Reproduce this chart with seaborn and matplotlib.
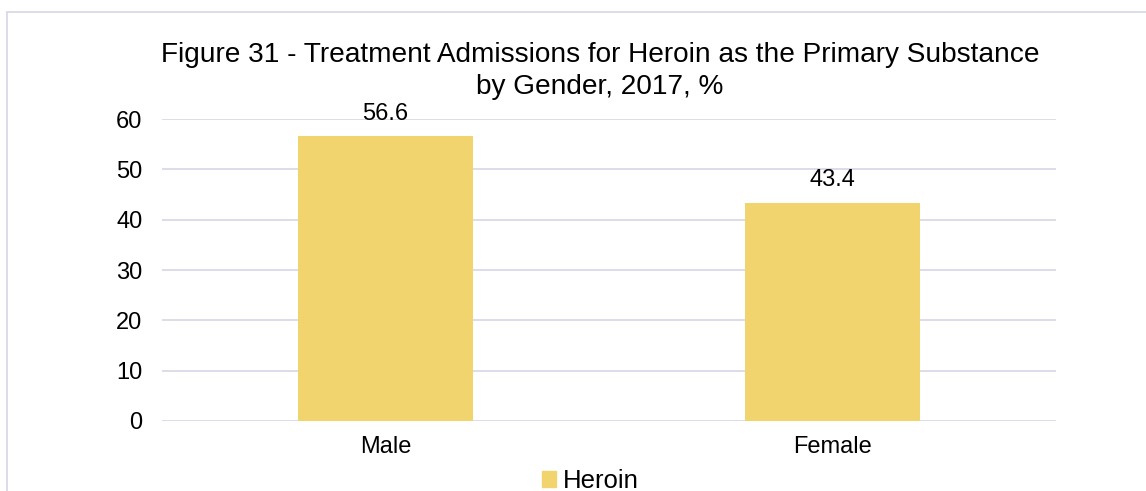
import matplotlib
matplotlib.use("Agg")
import matplotlib.pyplot as plt
import seaborn as sns
import pandas as pd
from matplotlib.patches import Patch
from matplotlib.lines import Line2D

# Data
genders = ["Male", "Female"]
heroin_pct = [56.6, 43.4]
series_name = "Heroin"
y_ticks = [0, 10, 20, 30, 40, 50, 60]
title_text = "Figure 31 - Treatment Admissions for Heroin as the Primary Substance\nby Gender, 2017, %"

bar_color = "#F2D46F"
grid_color = "#D9D9E8"

sns.set_theme(style="white")
plt.rcParams["font.family"] = ["Liberation Sans", "DejaVu Sans"]
plt.rcParams["text.color"] = "black"

df = pd.DataFrame({"Gender": genders, "Percent": heroin_pct,
                   "Substance": [series_name] * len(genders)})

fig = plt.figure(figsize=(11.46, 4.91), dpi=100)
ax = fig.add_axes([0.1414, 0.1426, 0.9215 - 0.1414, 0.7576 - 0.1426])

sns.barplot(data=df, x="Gender", y="Percent", hue="Substance",
            palette=[bar_color], width=0.39, legend=False, ax=ax,
            saturation=1, zorder=3, linewidth=0)

ax.set_ylim(0, 60)
ax.set_xlim(-0.5, 1.5)
ax.set_yticks(y_ticks)
ax.yaxis.grid(True, color=grid_color, linewidth=1.3, zorder=0)
ax.set_axisbelow(True)
for s in ax.spines.values():
    s.set_visible(False)
ax.tick_params(axis="both", length=0, labelsize=17, colors="black")
ax.tick_params(axis="y", pad=14)
ax.tick_params(axis="x", pad=11)
ax.set_xlabel("")
ax.set_ylabel("")

for c in ax.containers:
    ax.bar_label(c, fmt="%.1f", padding=8, fontsize=17, color="black")

fig.text(0.5236, 0.915, title_text, ha="center", va="top", fontsize=20.2,
         color="black", linespacing=1.3)

fig.legend(handles=[Patch(color=bar_color)], labels=[series_name],
           loc="center", bbox_to_anchor=(0.515, 0.02), frameon=False,
           fontsize=18.5, handlelength=0.55, handleheight=0.55,
           handletextpad=0.25, borderpad=0, labelcolor="black")

# outer chart border (left and top visible)
fig.add_artist(Line2D([6.5 / 1146, 6.5 / 1146], [0, 1 - 11.5 / 491],
                      color=grid_color, linewidth=1.3, transform=fig.transFigure))
fig.add_artist(Line2D([6.5 / 1146, 1], [1 - 11.5 / 491, 1 - 11.5 / 491],
                      color=grid_color, linewidth=1.3, transform=fig.transFigure))

fig.savefig("out.png", dpi=100)
